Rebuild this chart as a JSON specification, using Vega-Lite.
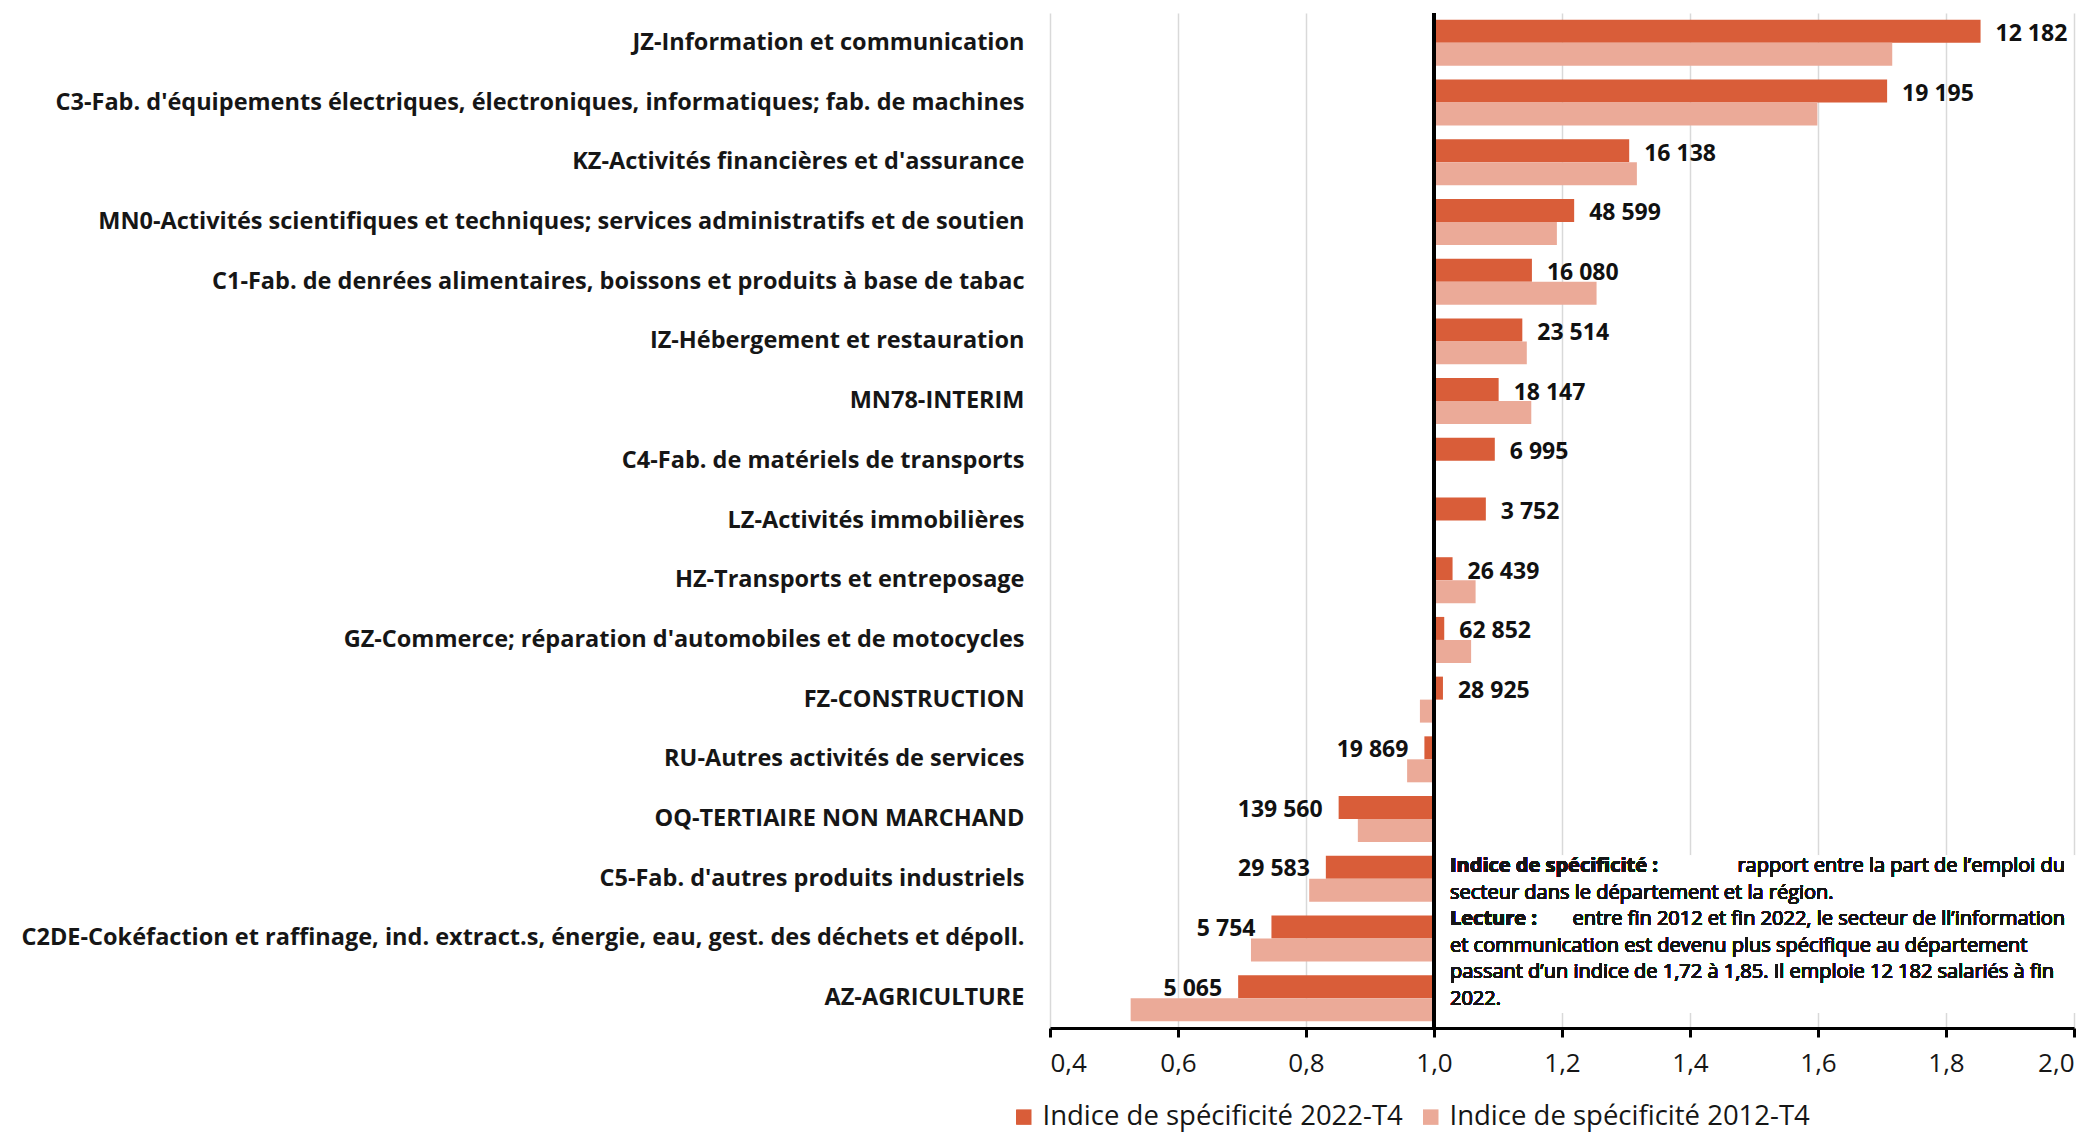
{
  "$schema": "https://vega.github.io/schema/vega-lite/v6.json",
  "autosize": {"type": "none"},
  "padding": {"left": 1050, "top": 13, "right": 24, "bottom": 107},
  "width": 1024,
  "height": 1015,
  "background": "white",
  "config": {
    "locale": {"number": {"decimal": ",", "thousands": " ", "grouping": [3], "currency": ["", " €"]}},
    "view": {"stroke": null},
    "font": "Open Sans"
  },
  "data": {
    "values": [
      {"secteur": "JZ-Information et communication", "serie": "Indice de spécificité 2022-T4", "indice": 1.854, "effectif": 12182},
      {"secteur": "JZ-Information et communication", "serie": "Indice de spécificité 2012-T4", "indice": 1.716},
      {"secteur": "C3-Fab. d'équipements électriques, électroniques, informatiques; fab. de machines", "serie": "Indice de spécificité 2022-T4", "indice": 1.708, "effectif": 19195},
      {"secteur": "C3-Fab. d'équipements électriques, électroniques, informatiques; fab. de machines", "serie": "Indice de spécificité 2012-T4", "indice": 1.599},
      {"secteur": "KZ-Activités financières et d'assurance", "serie": "Indice de spécificité 2022-T4", "indice": 1.305, "effectif": 16138},
      {"secteur": "KZ-Activités financières et d'assurance", "serie": "Indice de spécificité 2012-T4", "indice": 1.317},
      {"secteur": "MN0-Activités scientifiques et techniques; services administratifs et de soutien", "serie": "Indice de spécificité 2022-T4", "indice": 1.219, "effectif": 48599},
      {"secteur": "MN0-Activités scientifiques et techniques; services administratifs et de soutien", "serie": "Indice de spécificité 2012-T4", "indice": 1.192},
      {"secteur": "C1-Fab. de denrées alimentaires, boissons et produits à base de tabac", "serie": "Indice de spécificité 2022-T4", "indice": 1.153, "effectif": 16080},
      {"secteur": "C1-Fab. de denrées alimentaires, boissons et produits à base de tabac", "serie": "Indice de spécificité 2012-T4", "indice": 1.254},
      {"secteur": "IZ-Hébergement et restauration", "serie": "Indice de spécificité 2022-T4", "indice": 1.138, "effectif": 23514},
      {"secteur": "IZ-Hébergement et restauration", "serie": "Indice de spécificité 2012-T4", "indice": 1.145},
      {"secteur": "MN78-INTERIM", "serie": "Indice de spécificité 2022-T4", "indice": 1.101, "effectif": 18147},
      {"secteur": "MN78-INTERIM", "serie": "Indice de spécificité 2012-T4", "indice": 1.152},
      {"secteur": "C4-Fab. de matériels de transports", "serie": "Indice de spécificité 2022-T4", "indice": 1.095, "effectif": 6995},
      {"secteur": "LZ-Activités immobilières", "serie": "Indice de spécificité 2022-T4", "indice": 1.081, "effectif": 3752},
      {"secteur": "HZ-Transports et entreposage", "serie": "Indice de spécificité 2022-T4", "indice": 1.029, "effectif": 26439},
      {"secteur": "HZ-Transports et entreposage", "serie": "Indice de spécificité 2012-T4", "indice": 1.065},
      {"secteur": "GZ-Commerce; réparation d'automobiles et de motocycles", "serie": "Indice de spécificité 2022-T4", "indice": 1.016, "effectif": 62852},
      {"secteur": "GZ-Commerce; réparation d'automobiles et de motocycles", "serie": "Indice de spécificité 2012-T4", "indice": 1.058},
      {"secteur": "FZ-CONSTRUCTION", "serie": "Indice de spécificité 2022-T4", "indice": 1.014, "effectif": 28925},
      {"secteur": "FZ-CONSTRUCTION", "serie": "Indice de spécificité 2012-T4", "indice": 0.978},
      {"secteur": "RU-Autres activités de services", "serie": "Indice de spécificité 2022-T4", "indice": 0.985, "effectif": 19869},
      {"secteur": "RU-Autres activités de services", "serie": "Indice de spécificité 2012-T4", "indice": 0.958},
      {"secteur": "OQ-TERTIAIRE NON MARCHAND", "serie": "Indice de spécificité 2022-T4", "indice": 0.851, "effectif": 139560},
      {"secteur": "OQ-TERTIAIRE NON MARCHAND", "serie": "Indice de spécificité 2012-T4", "indice": 0.881},
      {"secteur": "C5-Fab. d'autres produits industriels", "serie": "Indice de spécificité 2022-T4", "indice": 0.831, "effectif": 29583},
      {"secteur": "C5-Fab. d'autres produits industriels", "serie": "Indice de spécificité 2012-T4", "indice": 0.805},
      {"secteur": "C2DE-Cokéfaction et raffinage, ind. extract.s, énergie, eau, gest. des déchets et dépoll.", "serie": "Indice de spécificité 2022-T4", "indice": 0.746, "effectif": 5754},
      {"secteur": "C2DE-Cokéfaction et raffinage, ind. extract.s, énergie, eau, gest. des déchets et dépoll.", "serie": "Indice de spécificité 2012-T4", "indice": 0.714},
      {"secteur": "AZ-AGRICULTURE", "serie": "Indice de spécificité 2022-T4", "indice": 0.694, "effectif": 5065},
      {"secteur": "AZ-AGRICULTURE", "serie": "Indice de spécificité 2012-T4", "indice": 0.526}
    ]
  },
  "layer": [
    {
      "mark": {"type": "bar"},
      "encoding": {
        "y": {
          "field": "secteur", "type": "nominal", "sort": null,
          "scale": {"paddingInner": 0.23, "paddingOuter": 0.115},
          "axis": {
            "title": null, "domain": false, "ticks": false, "grid": false,
            "labelFont": "Open Sans", "labelFontWeight": "bold", "labelFontSize": 23.5,
            "labelColor": "#161616", "labelPadding": 26, "labelLimit": 1200
          }
        },
        "x": {
          "field": "indice", "type": "quantitative",
          "scale": {"domain": [0.4, 2.0], "nice": false, "zero": false},
          "axis": {
            "title": null, "values": [0.4, 0.6, 0.8, 1.0, 1.2, 1.4, 1.6, 1.8, 2.0], "format": ".1f",
            "grid": true, "gridColor": "#D9D9D9", "gridWidth": 1.5,
            "domainColor": "#000000", "domainWidth": 3, "tickColor": "#000000", "tickWidth": 3, "tickSize": 9,
            "labelFont": "Open Sans", "labelFontSize": 26, "labelColor": "#161616", "labelPadding": 13
          }
        },
        "x2": {"datum": 1},
        "yOffset": {
          "field": "serie", "type": "nominal",
          "scale": {"domain": ["Indice de spécificité 2022-T4", "Indice de spécificité 2012-T4"], "paddingInner": 0, "paddingOuter": 0}
        },
        "color": {
          "field": "serie", "type": "nominal",
          "scale": {"domain": ["Indice de spécificité 2022-T4", "Indice de spécificité 2012-T4"], "range": ["#D95D39", "#EBAA98"]},
          "legend": {
            "title": null, "orient": "none", "direction": "horizontal", "legendX": -40, "legendY": 1090,
            "symbolType": "square", "symbolSize": 240, "symbolStrokeWidth": 0,
            "labelFont": "Open Sans", "labelFontSize": 27.5, "labelColor": "#161616", "labelLimit": 600, "columnPadding": 14, "labelOffset": 5
          }
        }
      }
    },
    {
      "transform": [{"filter": "datum.effectif != null && datum.indice >= 1"}],
      "mark": {"type": "text", "align": "left", "baseline": "middle", "dx": 15, "dy": 3, "font": "Open Sans", "fontWeight": "bold", "fontSize": 23, "color": "#111111"},
      "encoding": {
        "y": {"field": "secteur", "type": "nominal", "sort": null},
        "x": {"field": "indice", "type": "quantitative"},
        "yOffset": {"field": "serie", "type": "nominal"},
        "text": {"field": "effectif", "type": "quantitative", "format": ",d"}
      }
    },
    {
      "transform": [{"filter": "datum.effectif != null && datum.indice < 1"}],
      "mark": {"type": "text", "align": "right", "baseline": "middle", "dx": -16, "dy": 2, "font": "Open Sans", "fontWeight": "bold", "fontSize": 23, "color": "#111111"},
      "encoding": {
        "y": {"field": "secteur", "type": "nominal", "sort": null},
        "x": {"field": "indice", "type": "quantitative"},
        "yOffset": {"field": "serie", "type": "nominal"},
        "text": {"field": "effectif", "type": "quantitative", "format": ",d"}
      }
    },
    {
      "mark": {"type": "rect", "color": "white"},
      "encoding": {
        "x": {"datum": 1.006},
        "x2": {"datum": 2.01},
        "y": {"datum": "C5-Fab. d'autres produits industriels", "bandPosition": 0},
        "y2": {"datum": "AZ-AGRICULTURE", "bandPosition": 0.82}
      }
    },
    {
      "mark": {"type": "rule", "color": "#000000", "strokeWidth": 2.5},
      "encoding": {"x": {"datum": 1}}
    },
    {
      "mark": {"type": "text", "text": "Indice de spécificité :", "align": "left", "baseline": "top", "font": "Open Sans", "fontWeight": "bold", "fontSize": 20, "color": "#161616"},
      "encoding": {"x": {"datum": 1.025}, "y": {"datum": "C5-Fab. d'autres produits industriels", "bandPosition": 0.007}}
    },
    {
      "mark": {"type": "text", "text": "rapport entre la part de l’emploi du", "align": "right", "baseline": "top", "font": "Open Sans", "fontSize": 20, "color": "#161616"},
      "encoding": {"x": {"datum": 1.986}, "y": {"datum": "C5-Fab. d'autres produits industriels", "bandPosition": 0.007}}
    },
    {
      "mark": {"type": "text", "text": "secteur dans le département et la région.", "align": "left", "baseline": "top", "font": "Open Sans", "fontSize": 20, "color": "#161616"},
      "encoding": {"x": {"datum": 1.025}, "y": {"datum": "C5-Fab. d'autres produits industriels", "bandPosition": 0.583}}
    },
    {
      "mark": {"type": "text", "text": "Lecture :", "align": "left", "baseline": "top", "font": "Open Sans", "fontWeight": "bold", "fontSize": 20, "color": "#161616"},
      "encoding": {"x": {"datum": 1.025}, "y": {"datum": "C2DE-Cokéfaction et raffinage, ind. extract.s, énergie, eau, gest. des déchets et dépoll.", "bandPosition": -0.139}}
    },
    {
      "mark": {"type": "text", "text": "entre fin 2012 et fin 2022, le secteur de ll’information", "align": "right", "baseline": "top", "font": "Open Sans", "fontSize": 20, "color": "#161616"},
      "encoding": {"x": {"datum": 1.986}, "y": {"datum": "C2DE-Cokéfaction et raffinage, ind. extract.s, énergie, eau, gest. des déchets et dépoll.", "bandPosition": -0.139}}
    },
    {
      "mark": {"type": "text", "text": "et communication est devenu plus spécifique au département", "align": "left", "baseline": "top", "font": "Open Sans", "fontSize": 20, "color": "#161616"},
      "encoding": {"x": {"datum": 1.025}, "y": {"datum": "C2DE-Cokéfaction et raffinage, ind. extract.s, énergie, eau, gest. des déchets et dépoll.", "bandPosition": 0.437}}
    },
    {
      "mark": {"type": "text", "text": "passant d’un indice de 1,72 à 1,85. Il emploie 12 182 salariés à fin", "align": "left", "baseline": "top", "font": "Open Sans", "fontSize": 20, "color": "#161616"},
      "encoding": {"x": {"datum": 1.025}, "y": {"datum": "AZ-AGRICULTURE", "bandPosition": -0.285}}
    },
    {
      "mark": {"type": "text", "text": "2022.", "align": "left", "baseline": "top", "font": "Open Sans", "fontSize": 20, "color": "#161616"},
      "encoding": {"x": {"datum": 1.025}, "y": {"datum": "AZ-AGRICULTURE", "bandPosition": 0.291}}
    }
  ]
}
